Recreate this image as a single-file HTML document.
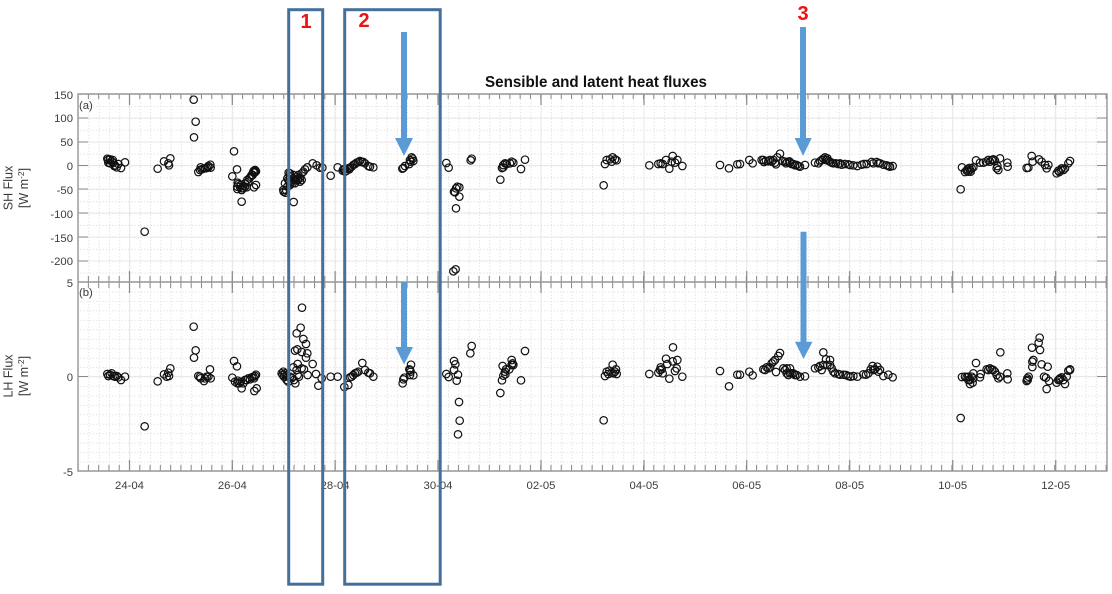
<!DOCTYPE html>
<html><head><meta charset="utf-8"><style>
html,body{margin:0;padding:0;background:#fff}
svg{display:block}
text{font-family:"Liberation Sans",sans-serif}
.t{font-size:11.3px;fill:#3c3c3c}
.pts{fill:none;stroke:#111;stroke-width:3.6}
.pts circle{r:11.2px}
</style></head><body>
<svg width="1112" height="594" viewBox="0 0 1112 594" xmlns="http://www.w3.org/2000/svg">
<defs>
<pattern id="vd" patternUnits="userSpaceOnUse" width="10.28" height="3.2" x="78.1" y="0"><rect width="1" height="1.3" fill="#e2e2e2"/></pattern>
<pattern id="ha" patternUnits="userSpaceOnUse" width="3.2" height="11.9" x="0" y="106"><rect width="1.3" height="1" fill="#e2e2e2"/></pattern>
<pattern id="hb" patternUnits="userSpaceOnUse" width="3.2" height="9.45" x="0" y="282"><rect width="1.3" height="1" fill="#e4e4e4"/></pattern>
</defs>
<rect width="1112" height="594" fill="#fff"/>
<rect x="78" y="94" width="1029" height="188" fill="url(#vd)"/>
<rect x="78" y="94" width="1029" height="188" fill="url(#ha)"/>
<rect x="78" y="282" width="1029" height="189" fill="url(#vd)"/>
<rect x="78" y="282" width="1029" height="189" fill="url(#hb)"/>
<path d="M129.5 94V471M232.3 94V471M335.1 94V471M438 94V471M541 94V471M644 94V471M746.7 94V471M849.7 94V471M952.7 94V471M1055.7 94V471M78 118H1107M78 142H1107M78 165.5H1107M78 189H1107M78 213H1107M78 237H1107M78 261H1107M78 376.5H1107" stroke="#e8e8e8" stroke-width="1" fill="none"/>
<g stroke="#8a8a8a" fill="none">
<line x1="77.6" x2="1107" y1="96.500" y2="96.500" stroke-width="5" stroke-dasharray="1 9.28"/>
<line x1="77.6" x2="1107" y1="279" y2="279" stroke-width="6" stroke-dasharray="1 9.28"/>
<line x1="77.6" x2="1107" y1="285" y2="285" stroke-width="6" stroke-dasharray="1 9.28"/>
<line x1="77.6" x2="1107" y1="468" y2="468" stroke-width="6" stroke-dasharray="1 9.28"/>
<path stroke-width="1.2" d="M129.5 94V105M232.3 94V105M335.1 94V105M438 94V105M541 94V105M644 94V105M746.7 94V105M849.7 94V105M952.7 94V105M1055.7 94V105M129.5 271V293M232.3 271V293M335.1 271V293M438 271V293M541 271V293M644 271V293M746.7 271V293M849.7 271V293M952.7 271V293M1055.7 271V293M129.5 460V471M232.3 460V471M335.1 460V471M438 460V471M541 460V471M644 460V471M746.7 460V471M849.7 460V471M952.7 460V471M1055.7 460V471"/>
<path stroke-width="1" d="M78 118H88M78 142H88M78 165.500H88M78 189H88M78 213H88M78 237H88M78 261H88M78 376.500H88M1097 118H1107M1097 142H1107M1097 165.500H1107M1097 189H1107M1097 213H1107M1097 237H1107M1097 261H1107M1097 376.500H1107"/>
</g>
<path d="M78 94H1107V471H78ZM78 282H1107" fill="none" stroke="#979797" stroke-width="1.4"/>
<g class="t" text-anchor="end">
<text x="73" y="99">150</text><text x="73" y="122">100</text><text x="73" y="146">50</text><text x="73" y="170">0</text><text x="73" y="194">-50</text><text x="73" y="218">-100</text><text x="73" y="242">-150</text><text x="73" y="265">-200</text><text x="73" y="287">5</text><text x="73" y="381">0</text><text x="73" y="476">-5</text>
</g>
<g class="t" text-anchor="middle">
<text x="129.5" y="489">24-04</text><text x="232.3" y="489">26-04</text><text x="335.1" y="489">28-04</text><text x="438" y="489">30-04</text><text x="541" y="489">02-05</text><text x="644" y="489">04-05</text><text x="746.7" y="489">06-05</text><text x="849.7" y="489">08-05</text><text x="952.7" y="489">10-05</text><text x="1055.7" y="489">12-05</text>
</g>
<text class="t" x="79" y="109">(a)</text><text class="t" x="79" y="296">(b)</text>
<text class="t" text-anchor="middle" transform="translate(12.500,188) rotate(-90)" style="font-size:12.5px">SH Flux</text>
<text class="t" text-anchor="middle" transform="translate(28,188) rotate(-90)" style="font-size:12.5px">[W m<tspan dy="-4" font-size="8.500">-2</tspan><tspan dy="4">]</tspan></text>
<text class="t" text-anchor="middle" transform="translate(12.500,376) rotate(-90)" style="font-size:12.5px">LH Flux</text>
<text class="t" text-anchor="middle" transform="translate(28,376) rotate(-90)" style="font-size:12.5px">[W m<tspan dy="-4" font-size="8.500">-2</tspan><tspan dy="4">]</tspan></text>
<text x="485" y="87" font-size="16" font-weight="bold" fill="#111" textLength="222" lengthAdjust="spacingAndGlyphs">Sensible and latent heat fluxes</text>

<g class="pts" transform="translate(0,80) scale(.33333)">
<circle cx="581" cy="59"/><circle cx="587" cy="125"/><circle cx="582" cy="172"/><circle cx="702" cy="214"/><circle cx="711" cy="268"/><circle cx="697" cy="289"/><circle cx="434" cy="455"/><circle cx="725" cy="365"/><circle cx="881" cy="366"/><circle cx="375" cy="247"/><circle cx="363" cy="264"/><circle cx="473" cy="266"/><circle cx="492" cy="244"/><circle cx="511" cy="235"/><circle cx="505" cy="250"/><circle cx="507" cy="256"/><circle cx="595" cy="276"/><circle cx="602" cy="262"/><circle cx="610" cy="266"/><circle cx="620" cy="264"/><circle cx="631" cy="254"/><circle cx="632" cy="263"/><circle cx="625" cy="262"/><circle cx="322" cy="236"/><circle cx="324" cy="240"/><circle cx="325" cy="248"/><circle cx="338" cy="240"/><circle cx="340" cy="248"/><circle cx="345" cy="256"/><circle cx="350" cy="262"/><circle cx="355" cy="252"/><circle cx="330" cy="250"/>
<circle cx="713" cy="308"/><circle cx="716" cy="312"/><circle cx="712" cy="327"/><circle cx="722" cy="315"/><circle cx="725" cy="325"/><circle cx="730" cy="318"/><circle cx="735" cy="310"/><circle cx="742" cy="300"/><circle cx="748" cy="295"/><circle cx="752" cy="290"/><circle cx="758" cy="285"/><circle cx="762" cy="278"/><circle cx="768" cy="274"/><circle cx="760" cy="275"/><circle cx="765" cy="277"/><circle cx="768" cy="315"/><circle cx="762" cy="322"/><circle cx="725" cy="330"/><circle cx="740" cy="322"/>
<circle cx="851" cy="335"/><circle cx="855" cy="310"/><circle cx="866" cy="278"/><circle cx="865" cy="300"/><circle cx="870" cy="290"/><circle cx="875" cy="305"/><circle cx="880" cy="295"/><circle cx="885" cy="310"/><circle cx="890" cy="290"/><circle cx="895" cy="285"/><circle cx="900" cy="295"/><circle cx="905" cy="280"/><circle cx="910" cy="275"/><circle cx="915" cy="268"/><circle cx="922" cy="262"/><circle cx="938" cy="250"/><circle cx="950" cy="256"/><circle cx="960" cy="263"/><circle cx="967" cy="263"/><circle cx="870" cy="315"/><circle cx="858" cy="330"/><circle cx="885" cy="300"/><circle cx="893" cy="300"/><circle cx="900" cy="305"/><circle cx="992" cy="287"/><circle cx="1013" cy="262"/><circle cx="1033" cy="268"/><circle cx="1040" cy="272"/><circle cx="1048" cy="268"/><circle cx="1055" cy="260"/><circle cx="1065" cy="252"/><circle cx="1075" cy="246"/><circle cx="1085" cy="246"/><circle cx="1095" cy="250"/><circle cx="1105" cy="258"/><circle cx="1035" cy="275"/><circle cx="1045" cy="265"/>
<circle cx="850" cy="330"/><circle cx="856" cy="338"/><circle cx="862" cy="320"/><circle cx="868" cy="305"/><circle cx="878" cy="310"/><circle cx="888" cy="300"/><circle cx="895" cy="295"/><circle cx="905" cy="300"/><circle cx="862" cy="295"/><circle cx="870" cy="280"/><circle cx="880" cy="285"/><circle cx="712" cy="320"/><circle cx="720" cy="320"/><circle cx="730" cy="325"/><circle cx="735" cy="320"/><circle cx="745" cy="305"/><circle cx="755" cy="285"/><circle cx="765" cy="270"/><circle cx="762" cy="272"/><circle cx="330" cy="238"/><circle cx="335" cy="244"/><circle cx="343" cy="258"/><circle cx="600" cy="270"/><circle cx="605" cy="268"/><circle cx="615" cy="265"/><circle cx="625" cy="258"/><circle cx="1028" cy="272"/><circle cx="1030" cy="268"/><circle cx="1050" cy="263"/><circle cx="1060" cy="255"/><circle cx="1070" cy="248"/><circle cx="1080" cy="243"/><circle cx="1090" cy="246"/>
</g>
<g class="pts" transform="translate(370,80) scale(.33333)">
<circle cx="10" cy="262"/><circle cx="0" cy="260"/><circle cx="100" cy="264"/><circle cx="97" cy="266"/><circle cx="105" cy="258"/><circle cx="118" cy="252"/><circle cx="122" cy="245"/><circle cx="125" cy="232"/><circle cx="130" cy="243"/><circle cx="120" cy="240"/><circle cx="128" cy="236"/><circle cx="229" cy="249"/><circle cx="236" cy="263"/><circle cx="302" cy="241"/><circle cx="305" cy="236"/><circle cx="262" cy="320"/><circle cx="268" cy="322"/><circle cx="258" cy="325"/><circle cx="255" cy="337"/><circle cx="252" cy="335"/><circle cx="268" cy="350"/><circle cx="258" cy="385"/><circle cx="257" cy="568"/><circle cx="250" cy="574"/><circle cx="391" cy="299"/><circle cx="396" cy="264"/><circle cx="400" cy="255"/><circle cx="405" cy="250"/><circle cx="410" cy="252"/><circle cx="420" cy="250"/><circle cx="425" cy="245"/><circle cx="430" cy="248"/><circle cx="400" cy="262"/><circle cx="453" cy="267"/><circle cx="465" cy="239"/><circle cx="701" cy="316"/><circle cx="705" cy="252"/><circle cx="710" cy="240"/><circle cx="720" cy="238"/><circle cx="728" cy="232"/><circle cx="735" cy="238"/><circle cx="740" cy="241"/><circle cx="725" cy="245"/><circle cx="838" cy="256"/><circle cx="865" cy="252"/><circle cx="872" cy="250"/><circle cx="878" cy="252"/><circle cx="888" cy="240"/><circle cx="898" cy="266"/><circle cx="908" cy="228"/><circle cx="905" cy="245"/><circle cx="915" cy="248"/><circle cx="922" cy="240"/><circle cx="937" cy="258"/><circle cx="1050" cy="255"/><circle cx="1077" cy="265"/><circle cx="1102" cy="253"/>
</g>
<g class="pts" transform="translate(740,80) scale(.33333)">
<circle cx="0" cy="252"/><circle cx="28" cy="240"/><circle cx="38" cy="250"/><circle cx="70" cy="240"/><circle cx="78" cy="243"/><circle cx="85" cy="244"/><circle cx="95" cy="245"/><circle cx="105" cy="248"/><circle cx="108" cy="253"/><circle cx="112" cy="232"/><circle cx="120" cy="221"/><circle cx="135" cy="245"/><circle cx="142" cy="246"/><circle cx="150" cy="248"/><circle cx="160" cy="252"/><circle cx="170" cy="255"/><circle cx="180" cy="260"/><circle cx="195" cy="255"/><circle cx="225" cy="248"/><circle cx="235" cy="250"/><circle cx="245" cy="240"/><circle cx="255" cy="232"/><circle cx="262" cy="235"/><circle cx="270" cy="245"/><circle cx="280" cy="250"/><circle cx="295" cy="252"/><circle cx="305" cy="254"/><circle cx="325" cy="253"/><circle cx="340" cy="256"/><circle cx="352" cy="258"/><circle cx="365" cy="254"/><circle cx="380" cy="252"/><circle cx="395" cy="246"/><circle cx="410" cy="246"/><circle cx="420" cy="250"/><circle cx="430" cy="254"/><circle cx="445" cy="258"/><circle cx="458" cy="258"/><circle cx="662" cy="328"/><circle cx="666" cy="262"/><circle cx="680" cy="272"/><circle cx="685" cy="275"/><circle cx="690" cy="270"/><circle cx="695" cy="265"/><circle cx="700" cy="262"/><circle cx="708" cy="241"/><circle cx="720" cy="248"/><circle cx="738" cy="245"/><circle cx="745" cy="240"/><circle cx="755" cy="240"/><circle cx="765" cy="242"/><circle cx="780" cy="235"/><circle cx="770" cy="265"/><circle cx="775" cy="270"/><circle cx="802" cy="248"/><circle cx="803" cy="260"/><circle cx="860" cy="264"/><circle cx="865" cy="263"/><circle cx="875" cy="228"/><circle cx="878" cy="245"/><circle cx="897" cy="238"/><circle cx="905" cy="245"/><circle cx="915" cy="255"/><circle cx="920" cy="265"/><circle cx="925" cy="255"/><circle cx="950" cy="280"/><circle cx="955" cy="272"/><circle cx="965" cy="265"/><circle cx="975" cy="265"/><circle cx="990" cy="243"/><circle cx="985" cy="250"/>
<circle cx="65" cy="240"/><circle cx="72" cy="246"/><circle cx="90" cy="240"/><circle cx="100" cy="240"/><circle cx="128" cy="243"/><circle cx="138" cy="250"/><circle cx="148" cy="244"/><circle cx="155" cy="252"/><circle cx="165" cy="256"/><circle cx="175" cy="258"/><circle cx="240" cy="244"/><circle cx="250" cy="236"/><circle cx="258" cy="240"/><circle cx="265" cy="242"/><circle cx="275" cy="248"/><circle cx="288" cy="250"/><circle cx="300" cy="250"/><circle cx="315" cy="252"/><circle cx="330" cy="255"/><circle cx="372" cy="252"/><circle cx="400" cy="250"/><circle cx="415" cy="250"/><circle cx="440" cy="256"/><circle cx="450" cy="260"/><circle cx="675" cy="276"/><circle cx="682" cy="268"/><circle cx="688" cy="264"/><circle cx="692" cy="275"/><circle cx="730" cy="248"/><circle cx="750" cy="245"/><circle cx="760" cy="238"/><circle cx="772" cy="258"/><circle cx="958" cy="276"/><circle cx="962" cy="270"/><circle cx="970" cy="270"/>
</g>
<g class="pts" transform="translate(0,280) scale(.33333)">
<circle cx="906" cy="83"/><circle cx="902" cy="143"/><circle cx="890" cy="160"/><circle cx="581" cy="140"/><circle cx="587" cy="211"/><circle cx="582" cy="233"/><circle cx="702" cy="243"/><circle cx="711" cy="259"/><circle cx="697" cy="293"/><circle cx="434" cy="439"/><circle cx="910" cy="177"/><circle cx="918" cy="192"/><circle cx="885" cy="212"/><circle cx="892" cy="208"/><circle cx="905" cy="216"/><circle cx="922" cy="220"/><circle cx="918" cy="233"/><circle cx="893" cy="252"/><circle cx="938" cy="252"/><circle cx="948" cy="282"/><circle cx="955" cy="317"/><circle cx="965" cy="295"/><circle cx="992" cy="290"/><circle cx="1013" cy="290"/><circle cx="1033" cy="321"/><circle cx="1045" cy="315"/><circle cx="1050" cy="292"/><circle cx="1055" cy="290"/><circle cx="1065" cy="280"/><circle cx="1075" cy="275"/><circle cx="1087" cy="249"/><circle cx="1095" cy="270"/><circle cx="1105" cy="278"/><circle cx="322" cy="282"/><circle cx="325" cy="288"/><circle cx="335" cy="280"/><circle cx="340" cy="288"/><circle cx="350" cy="288"/><circle cx="355" cy="292"/><circle cx="363" cy="300"/><circle cx="375" cy="290"/><circle cx="473" cy="304"/><circle cx="492" cy="283"/><circle cx="511" cy="265"/><circle cx="505" cy="278"/><circle cx="507" cy="288"/><circle cx="500" cy="290"/><circle cx="595" cy="288"/><circle cx="602" cy="295"/><circle cx="612" cy="303"/><circle cx="620" cy="290"/><circle cx="630" cy="268"/><circle cx="632" cy="295"/><circle cx="625" cy="290"/><circle cx="713" cy="302"/><circle cx="712" cy="310"/><circle cx="725" cy="325"/><circle cx="722" cy="305"/><circle cx="735" cy="300"/><circle cx="745" cy="295"/><circle cx="755" cy="292"/><circle cx="768" cy="284"/><circle cx="762" cy="295"/><circle cx="770" cy="325"/><circle cx="763" cy="333"/><circle cx="730" cy="310"/><circle cx="850" cy="275"/><circle cx="855" cy="280"/><circle cx="852" cy="290"/><circle cx="860" cy="300"/><circle cx="865" cy="305"/><circle cx="875" cy="295"/><circle cx="882" cy="300"/><circle cx="886" cy="310"/><circle cx="880" cy="262"/><circle cx="893" cy="285"/><circle cx="897" cy="290"/><circle cx="905" cy="265"/><circle cx="912" cy="268"/><circle cx="923" cy="285"/><circle cx="860" cy="285"/><circle cx="890" cy="270"/>
<circle cx="845" cy="280"/><circle cx="848" cy="285"/><circle cx="858" cy="290"/><circle cx="870" cy="290"/><circle cx="705" cy="305"/><circle cx="718" cy="310"/><circle cx="740" cy="300"/><circle cx="750" cy="298"/><circle cx="760" cy="290"/><circle cx="765" cy="288"/><circle cx="600" cy="290"/><circle cx="615" cy="295"/><circle cx="330" cy="284"/><circle cx="345" cy="290"/><circle cx="1060" cy="285"/><circle cx="1070" cy="278"/>
</g>
<g class="pts" transform="translate(370,280) scale(.33333)">
<circle cx="10" cy="290"/><circle cx="0" cy="280"/><circle cx="123" cy="254"/><circle cx="118" cy="268"/><circle cx="122" cy="275"/><circle cx="130" cy="286"/><circle cx="120" cy="285"/><circle cx="103" cy="293"/><circle cx="100" cy="298"/><circle cx="98" cy="310"/><circle cx="229" cy="282"/><circle cx="236" cy="291"/><circle cx="252" cy="243"/><circle cx="256" cy="253"/><circle cx="252" cy="270"/><circle cx="264" cy="284"/><circle cx="260" cy="302"/><circle cx="267" cy="366"/><circle cx="269" cy="422"/><circle cx="264" cy="463"/><circle cx="301" cy="220"/><circle cx="305" cy="198"/><circle cx="391" cy="339"/><circle cx="396" cy="301"/><circle cx="400" cy="287"/><circle cx="406" cy="283"/><circle cx="398" cy="258"/><circle cx="408" cy="268"/><circle cx="418" cy="268"/><circle cx="425" cy="240"/><circle cx="428" cy="250"/><circle cx="430" cy="255"/><circle cx="453" cy="301"/><circle cx="465" cy="213"/><circle cx="701" cy="421"/><circle cx="705" cy="288"/><circle cx="710" cy="275"/><circle cx="718" cy="272"/><circle cx="728" cy="254"/><circle cx="735" cy="275"/><circle cx="740" cy="282"/><circle cx="738" cy="268"/><circle cx="725" cy="278"/><circle cx="838" cy="282"/><circle cx="865" cy="278"/><circle cx="872" cy="262"/><circle cx="875" cy="268"/><circle cx="878" cy="280"/><circle cx="888" cy="236"/><circle cx="892" cy="252"/><circle cx="898" cy="296"/><circle cx="908" cy="244"/><circle cx="909" cy="202"/><circle cx="922" cy="240"/><circle cx="920" cy="265"/><circle cx="915" cy="273"/><circle cx="937" cy="290"/><circle cx="1050" cy="273"/><circle cx="1077" cy="319"/><circle cx="1102" cy="284"/>
<circle cx="405" cy="275"/><circle cx="425" cy="255"/><circle cx="715" cy="282"/><circle cx="730" cy="280"/><circle cx="870" cy="270"/><circle cx="120" cy="270"/>
</g>
<g class="pts" transform="translate(740,280) scale(.33333)">
<circle cx="0" cy="284"/><circle cx="28" cy="275"/><circle cx="38" cy="286"/><circle cx="70" cy="268"/><circle cx="75" cy="270"/><circle cx="85" cy="265"/><circle cx="95" cy="250"/><circle cx="105" cy="240"/><circle cx="120" cy="219"/><circle cx="115" cy="228"/><circle cx="108" cy="276"/><circle cx="135" cy="270"/><circle cx="140" cy="265"/><circle cx="150" cy="265"/><circle cx="145" cy="285"/><circle cx="155" cy="280"/><circle cx="165" cy="285"/><circle cx="180" cy="290"/><circle cx="195" cy="289"/><circle cx="225" cy="265"/><circle cx="235" cy="262"/><circle cx="245" cy="270"/><circle cx="250" cy="217"/><circle cx="258" cy="238"/><circle cx="270" cy="240"/><circle cx="270" cy="255"/><circle cx="280" cy="275"/><circle cx="295" cy="282"/><circle cx="310" cy="284"/><circle cx="325" cy="288"/><circle cx="340" cy="288"/><circle cx="352" cy="290"/><circle cx="370" cy="283"/><circle cx="385" cy="280"/><circle cx="398" cy="258"/><circle cx="412" cy="260"/><circle cx="400" cy="270"/><circle cx="420" cy="270"/><circle cx="430" cy="288"/><circle cx="445" cy="284"/><circle cx="458" cy="292"/><circle cx="662" cy="414"/><circle cx="666" cy="291"/><circle cx="680" cy="292"/><circle cx="685" cy="300"/><circle cx="695" cy="290"/><circle cx="690" cy="312"/><circle cx="698" cy="308"/><circle cx="708" cy="249"/><circle cx="700" cy="280"/><circle cx="720" cy="292"/><circle cx="722" cy="282"/><circle cx="740" cy="268"/><circle cx="750" cy="265"/><circle cx="760" cy="270"/><circle cx="770" cy="285"/><circle cx="775" cy="295"/><circle cx="781" cy="217"/><circle cx="802" cy="280"/><circle cx="803" cy="298"/><circle cx="862" cy="295"/><circle cx="866" cy="290"/><circle cx="860" cy="303"/><circle cx="876" cy="203"/><circle cx="880" cy="240"/><circle cx="877" cy="245"/><circle cx="877" cy="261"/><circle cx="896" cy="188"/><circle cx="899" cy="173"/><circle cx="900" cy="210"/><circle cx="905" cy="253"/><circle cx="923" cy="260"/><circle cx="912" cy="290"/><circle cx="918" cy="293"/><circle cx="927" cy="303"/><circle cx="920" cy="327"/><circle cx="950" cy="308"/><circle cx="958" cy="298"/><circle cx="965" cy="292"/><circle cx="975" cy="312"/><circle cx="980" cy="290"/><circle cx="990" cy="270"/><circle cx="985" cy="272"/>
<circle cx="80" cy="262"/><circle cx="90" cy="262"/><circle cx="100" cy="245"/><circle cx="130" cy="265"/><circle cx="140" cy="280"/><circle cx="150" cy="280"/><circle cx="160" cy="280"/><circle cx="170" cy="285"/><circle cx="240" cy="258"/><circle cx="250" cy="255"/><circle cx="262" cy="255"/><circle cx="275" cy="265"/><circle cx="285" cy="280"/><circle cx="300" cy="284"/><circle cx="318" cy="285"/><circle cx="332" cy="290"/><circle cx="378" cy="284"/><circle cx="392" cy="268"/><circle cx="405" cy="268"/><circle cx="415" cy="275"/><circle cx="675" cy="290"/><circle cx="685" cy="290"/><circle cx="690" cy="300"/><circle cx="700" cy="295"/><circle cx="745" cy="270"/><circle cx="755" cy="268"/><circle cx="765" cy="275"/><circle cx="780" cy="290"/><circle cx="955" cy="300"/><circle cx="960" cy="295"/><circle cx="970" cy="300"/><circle cx="990" cy="268"/><circle cx="863" cy="300"/>
</g>

<rect x="288.7" y="9.7" width="34" height="574.5" fill="none" stroke="#44719b" stroke-width="3"/>
<rect x="344.7" y="9.7" width="95.5" height="574.5" fill="none" stroke="#44719b" stroke-width="3"/>
<g fill="#5b9bd5">
<path d="M401 32H407V138H413L404 156L395 138H401Z"/>
<path d="M401 282H407V347H413L404 364.500L395.500 347H401Z"/>
<path d="M800 27H806V138H811.700L803 156L794.700 138H800Z"/>
<path d="M800.500 231.700H806.500V341.700H812.500L803.500 359L795 341.700H800.500Z"/>
</g>
<g fill="#e11" font-weight="bold" font-size="20" text-anchor="middle">
<text x="306" y="28">1</text>
<text x="364" y="27">2</text>
<text x="803" y="20">3</text>
</g>
</svg>
</body></html>
